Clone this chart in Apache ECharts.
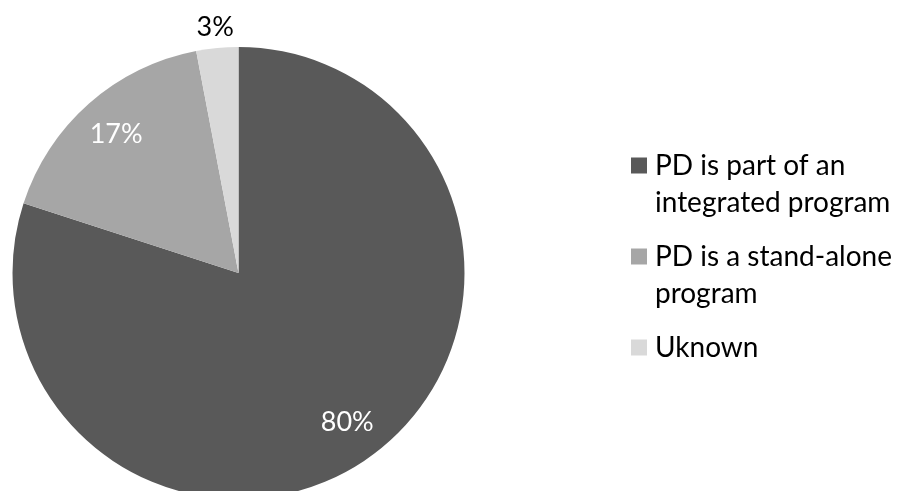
<!DOCTYPE html>
<html>
<head>
<meta charset="utf-8">
<script src="https://cdn.jsdelivr.net/npm/echarts@6/dist/echarts.min.js"></script>
<style>
  html, body { margin: 0; padding: 0; background: #ffffff; }
  #chart { width: 897px; height: 491px; }
</style>
</head>
<body>
<div id="chart"></div>
<script>
// Program delivery shares
const categories = ['PD is part of an\nintegrated program', 'PD is a stand-alone\nprogram', 'Uknown'];
const shares = [80, 17, 3];

// Styling
const FONT = 'Lato';
const LABEL_SIZE = 27;
const LEGEND_SIZE = 28;
const LINE_H = 37;
const sliceColors = ['#595959', '#a6a6a6', '#d9d9d9'];
const labelColors = ['#ffffff', '#ffffff', '#000000'];

const CENTER = [238.5, 273];
const R = 226;

const baseData = categories.map((name, i) => ({ name, value: shares[i] }));

// Inner labels ride on a transparent ring whose mid-radius sits at ~0.8 R;
// the smallest slice gets its label on a ring just outside the pie.
const innerLabelData = categories.map((name, i) => ({
  name, value: shares[i],
  label: { show: i < 2, color: labelColors[i] }
}));
const outerLabelData = categories.map((name, i) => ({
  name, value: shares[i],
  label: { show: i === 2, color: labelColors[i] }
}));

const labelRing = (radius, data) => ({
  type: 'pie',
  center: CENTER,
  radius: radius,
  startAngle: 90,
  clockwise: true,
  silent: true,
  legendHoverLink: false,
  itemStyle: { color: 'rgba(0,0,0,0)', borderWidth: 0 },
  label: {
    position: 'inside',
    formatter: '{c}%',
    fontFamily: FONT,
    fontSize: LABEL_SIZE
  },
  labelLine: { show: false },
  emphasis: { disabled: true },
  data: data
});

const chart = echarts.init(document.getElementById('chart'), null, { renderer: 'canvas' });
chart.setOption({
  animation: false,
  color: sliceColors,
  legend: {
    orient: 'vertical',
    left: 631,
    top: 110,
    padding: 0,
    itemGap: -20,
    itemWidth: 16,
    itemHeight: 16,
    icon: 'rect',
    selectedMode: false,
    // A blank leading line keeps the swatch level with the first text line
    formatter: name => name.includes('\n') ? '\n' + name : '\n' + name + '\n',
    textStyle: {
      fontFamily: FONT,
      fontSize: LEGEND_SIZE,
      lineHeight: LINE_H,
      color: '#000000',
      padding: [0, 0, 0, 3]
    },
    data: categories
  },
  series: [
    {
      type: 'pie',
      center: CENTER,
      radius: R,
      startAngle: 90,
      clockwise: true,
      silent: true,
      itemStyle: { borderWidth: 0 },
      label: { show: false },
      labelLine: { show: false },
      emphasis: { disabled: true },
      data: baseData
    },
    labelRing([138, R], innerLabelData),
    labelRing([R, 262], outerLabelData)
  ]
});
</script>
</body>
</html>
